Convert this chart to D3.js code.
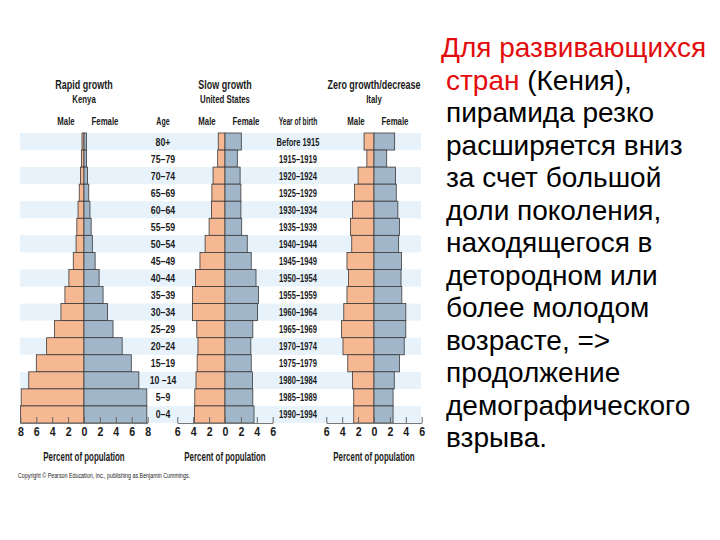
<!DOCTYPE html>
<html><head><meta charset="utf-8">
<script src="https://cdn.jsdelivr.net/npm/d3@7"></script>
<style>
html,body{margin:0;padding:0;background:#fff;}
svg{display:block;}
.cond{font-family:"Liberation Sans",Arial,sans-serif;}
</style>
</head><body>
<svg id="chart" width="720" height="540"></svg>
<script>
// ---- data ----
const ages = ["80+","75–79","70–74","65–69","60–64","55–59","50–54","45–49","40–44","35–39","30–34","25–29","20–24","15–19","10 –14","5–9","0–4"];
const years = ["Before 1915","1915–1919","1920–1924","1925–1929","1930–1934","1935–1939","1940–1944","1945–1949","1950–1954","1955–1959","1960–1964","1965–1969","1970–1974","1975–1979","1980–1984","1985–1989","1990–1994"];
const kenyaMale   = [0.25,0.33,0.45,0.6,0.75,0.9,1.0,1.35,1.9,2.4,2.9,3.7,4.7,6.0,6.95,7.9,8.0];
const kenyaFemale = [0.3,0.33,0.45,0.6,0.75,0.9,1.05,1.4,1.9,2.4,2.95,3.65,4.8,5.95,6.9,7.9,7.9];
const usMale      = [0.85,0.92,1.5,1.65,1.7,2.0,2.5,3.15,3.7,4.1,4.1,3.55,3.4,3.5,3.65,3.8,3.85];
const usFemale    = [2.05,1.55,1.9,2.0,2.0,2.1,2.8,3.3,3.9,4.2,4.1,3.5,3.25,3.3,3.45,3.5,3.65];
const italyMale   = [1.25,0.9,2.0,2.45,2.7,2.95,2.8,3.4,3.2,3.4,3.8,4.1,3.9,3.3,2.7,2.55,2.55];
const italyFemale = [2.6,1.6,2.7,2.8,3.0,3.2,3.1,3.45,3.4,3.5,4.0,4.0,3.8,3.2,2.55,2.4,2.4];
const titles = ["Rapid growth","Slow growth","Zero growth/decrease"];
const countries = ["Kenya","United States","Italy"];
const axisMax = [8,6,6];
const axisLabel = "Percent of population";
const copyright = "Copyright © Pearson Education, Inc., publishing as Benjamin Cummings.";
const textLines = [
  [["Для развивающихся","r"]],
  [["стран","r"],[" (Кения),","k"]],
  [["пирамида резко","k"]],
  [["расширяется вниз","k"]],
  [["за счет большой","k"]],
  [["доли поколения,","k"]],
  [["находящегося в","k"]],
  [["детородном или","k"]],
  [["более молодом","k"]],
  [["возрасте, =>","k"]],
  [["продолжение","k"]],
  [["демографического","k"]],
  [["взрыва.","k"]]
];

// ---- layout ----
const svg = d3.select("#chart");
const maleColor = "#f6b793", femaleColor = "#a2b6c9", stripeColor = "#e7f2fa";
const centers = [84, 225, 374];
const k = 7.95;
const y = d3.scaleBand().domain(ages).range([133, 423]).paddingInner(0);
const pyramids = [
  {male: kenyaMale, female: kenyaFemale},
  {male: usMale, female: usFemale},
  {male: italyMale, female: italyFemale}
];

// condensed look: horizontally scaled text
function label(g, x, yy, txt, size, ratio) {
  return g.append("text").attr("class","cond")
    .attr("transform", `translate(${x},${yy}) scale(${ratio},1)`)
    .attr("text-anchor","middle").attr("font-size", size).attr("font-weight", "bold")
    .attr("fill","#1a1a1a").text(txt);
}

// stripes
svg.append("g").selectAll("rect").data(ages.filter((d,i)=>i%2===0)).join("rect")
  .attr("x", 20).attr("width", 401)
  .attr("y", d=>y(d)).attr("height", y.bandwidth())
  .attr("fill", stripeColor);

pyramids.forEach((p, pi) => {
  const c = centers[pi], m = axisMax[pi];
  const x = d3.scaleLinear().domain([-m, m]).range([c - m*k, c + m*k]);
  const g = svg.append("g");
  g.selectAll("rect.m").data(p.male).join("rect").attr("class","m")
    .attr("x", d=>x(-d)).attr("width", d=>x(0)-x(-d))
    .attr("y", (d,i)=>y(ages[i])).attr("height", y.bandwidth())
    .attr("fill", maleColor).attr("stroke", "#3a3a3a").attr("stroke-width", 0.8);
  g.selectAll("rect.f").data(p.female).join("rect").attr("class","f")
    .attr("x", x(0)).attr("width", d=>x(d)-x(0))
    .attr("y", (d,i)=>y(ages[i])).attr("height", y.bandwidth())
    .attr("fill", femaleColor).attr("stroke", "#3a3a3a").attr("stroke-width", 0.8);

  const ax = g.append("g").attr("transform", "translate(0,423)")
    .call(d3.axisBottom(x).tickValues(d3.range(-m, m+1, 2)).tickFormat(d=>Math.abs(d))
      .tickSizeInner(-6).tickSizeOuter(0).tickPadding(4));
  ax.select(".domain").attr("stroke", "#777").attr("stroke-width", 1);
  ax.selectAll(".tick line").attr("stroke", "#666").attr("stroke-width", 1);
  ax.selectAll(".tick text").attr("class","cond").attr("font-size", 12.5)
    .attr("font-weight","bold").attr("fill","#1a1a1a")
    .attr("transform", "scale(0.85,1)");

  // headers
  label(g, c, 89, titles[pi], 13, 0.69);
  label(g, c, 103, countries[pi], 11.5, 0.68);
  label(g, c - 18, 125, "Male", 11.5, 0.68);
  label(g, c + 21, 125, "Female", 11.5, 0.68);
  label(g, c, 461, axisLabel, 12, 0.66);
});

// age & year columns
label(svg, 163, 125, "Age", 11, 0.64);
const ag = svg.append("g");
ages.forEach(a => label(ag, 163, y(a) + y.bandwidth()/2 + 4, a, 11.5, 0.76));
label(svg, 298, 125, "Year of birth", 10.5, 0.63);
const yg = svg.append("g");
years.forEach((yr, i) => label(yg, 298, y(ages[i]) + y.bandwidth()/2 + 4, yr, 10.5, 0.72));

svg.append("text").attr("class","cond").attr("transform","translate(18,478) scale(0.72,1)")
  .attr("font-size",7.4).attr("fill","#222").text(copyright);

// right-hand text
const tg = svg.append("g").attr("font-family","'Liberation Sans',Arial,sans-serif").attr("font-size",28);
textLines.forEach((ln, i) => {
  const t = tg.append("text").attr("x", i===0 ? 441 : 446).attr("y", 57 + i*32.5);
  ln.forEach(([s, col]) => t.append("tspan").attr("fill", col==="r" ? "#e30b0b" : "#000").text(s));
});
</script>
</body></html>
